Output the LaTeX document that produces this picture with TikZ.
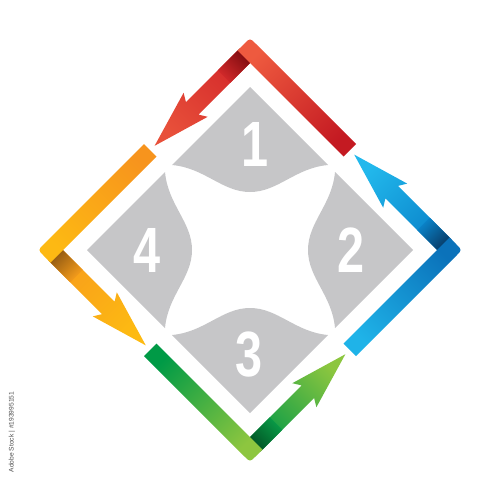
\documentclass[tikz,border=0pt]{standalone}
\usepackage{fontspec}
\usepackage{xcolor}
\newfontfamily\numfont{Liberation Sans}
\newfontfamily\tagfont{Liberation Sans}

\definecolor{piecegray}{RGB}{198,198,200}
\definecolor{redend}{RGB}{196,26,34}
\definecolor{redcorner}{RGB}{238,90,63}
\definecolor{redfold}{RGB}{122,10,14}
\definecolor{redmid}{RGB}{212,42,43}
\definecolor{redtip}{RGB}{232,80,58}
\definecolor{blueend}{RGB}{31,179,232}
\definecolor{bluecorner}{RGB}{11,114,186}
\definecolor{bluefold}{RGB}{8,53,95}
\definecolor{bluemid}{RGB}{10,132,202}
\definecolor{bluetip}{RGB}{34,184,236}
\definecolor{greenend}{RGB}{0,154,70}
\definecolor{greencorner}{RGB}{141,198,63}
\definecolor{greenfold}{RGB}{0,80,35}
\definecolor{greenmid}{RGB}{10,155,71}
\definecolor{greentip}{RGB}{140,198,63}
\definecolor{orangeend}{RGB}{247,148,29}
\definecolor{orangecorner}{RGB}{253,185,19}
\definecolor{orangefold}{RGB}{138,85,18}
\definecolor{orangemid}{RGB}{248,158,27}
\definecolor{orangetip}{RGB}{253,186,18}

\tikzset{
  piece/.style={fill=piecegray},
  number/.style={text=white, font=\numfont\bfseries\fontsize{48}{48}\selectfont},
  stocktag/.style={text=black!70, font=\tagfont\fontsize{5}{6}\selectfont}
}

\begin{document}
\begin{tikzpicture}[x=0.75pt,y=0.75pt,yscale=-1]

    \useasboundingbox (0,0) rectangle (500,500);

    \fill [piece] (250,87) -- (328,165) .. controls (295,168) and (278,192) .. (250,192) .. controls (222,192) and (205,168) .. (172,165) -- cycle;
    \fill [piece] (413,250) -- (335,328) .. controls (332,295) and (308,278) .. (308,250) .. controls (308,222) and (332,205) .. (335,172) -- cycle;
    \fill [piece] (250,413) -- (172,335) .. controls (205,332) and (222,308) .. (250,308) .. controls (278,308) and (295,332) .. (328,335) -- cycle;
    \fill [piece] (87,250) -- (165,172) .. controls (168,205) and (192,222) .. (192,250) .. controls (192,278) and (168,295) .. (165,328) -- cycle;

    \shade [top color=redtip, bottom color=redmid, shading angle=135] (237.5,50.5) -- (185.9,102.1) -- (183.6,92.8) -- (154.6,145.8) -- (207.7,116.8) -- (198.4,114.6) -- (250,63) -- cycle;
    \shade [top color=redmid, bottom color=redfold, shading angle=135] (239.6,48.4) -- (217.7,70.3) -- (230.2,82.8) -- (252.1,60.9) -- cycle;
    \shade [top color=redcorner, bottom color=redend, shading angle=45] (356,144) -- (255.7,43.7) .. controls (250,38) .. (244.3,43.7) -- (237.5,50.5) -- (250,63) -- (343.5,156.5) -- cycle;

    \shade [top color=bluetip, bottom color=bluemid, shading angle=45] (449.5,237.5) -- (397.9,185.9) -- (407.2,183.6) -- (354.2,154.6) -- (383.2,207.7) -- (385.4,198.4) -- (437,250) -- cycle;
    \shade [top color=bluemid, bottom color=bluefold, shading angle=45] (451.6,239.6) -- (429.7,217.7) -- (417.2,230.2) -- (439.1,252.1) -- cycle;
    \shade [top color=bluecorner, bottom color=blueend, shading angle=-45] (356,356) -- (456.3,255.7) .. controls (462,250) .. (456.3,244.3) -- (449.5,237.5) -- (437,250) -- (343.5,343.5) -- cycle;

    \shade [top color=greentip, bottom color=greenmid, shading angle=-45] (262.5,449.5) -- (314.1,397.9) -- (316.4,407.2) -- (345.4,354.2) -- (292.3,383.2) -- (301.6,385.4) -- (250,437) -- cycle;
    \shade [top color=greenmid, bottom color=greenfold, shading angle=-45] (260.4,451.6) -- (282.3,429.7) -- (269.8,417.2) -- (247.9,439.1) -- cycle;
    \shade [top color=greencorner, bottom color=greenend, shading angle=-135] (144,356) -- (244.3,456.3) .. controls (250,462) .. (255.7,456.3) -- (262.5,449.5) -- (250,437) -- (156.5,343.5) -- cycle;

    \shade [top color=orangetip, bottom color=orangemid, shading angle=-135] (50.5,262.5) -- (102.1,314.1) -- (92.8,316.4) -- (145.8,345.4) -- (116.8,292.3) -- (114.6,301.6) -- (63,250) -- cycle;
    \shade [top color=orangemid, bottom color=orangefold, shading angle=-135] (48.4,260.4) -- (70.3,282.3) -- (82.8,269.8) -- (60.9,247.9) -- cycle;
    \shade [top color=orangecorner, bottom color=orangeend, shading angle=135] (144,144) -- (43.7,244.3) .. controls (38,250) .. (43.7,255.7) -- (50.5,262.5) -- (63,250) -- (156.5,156.5) -- cycle;

    \draw (255,144) node [number] (n1) {\scalebox{0.76}[1]{1}};
    \draw (351,250) node [number] (n2) {\scalebox{0.76}[1]{2}};
    \draw (249.5,355) node [number] (n3) {\scalebox{0.76}[1]{3}};
    \draw (147,250) node [number] (n4) {\scalebox{0.76}[1]{4}};
    \draw (12,432) node [stocktag, rotate=90] (tag) {Adobe Stock | \#193995151};

\end{tikzpicture}
\end{document}
